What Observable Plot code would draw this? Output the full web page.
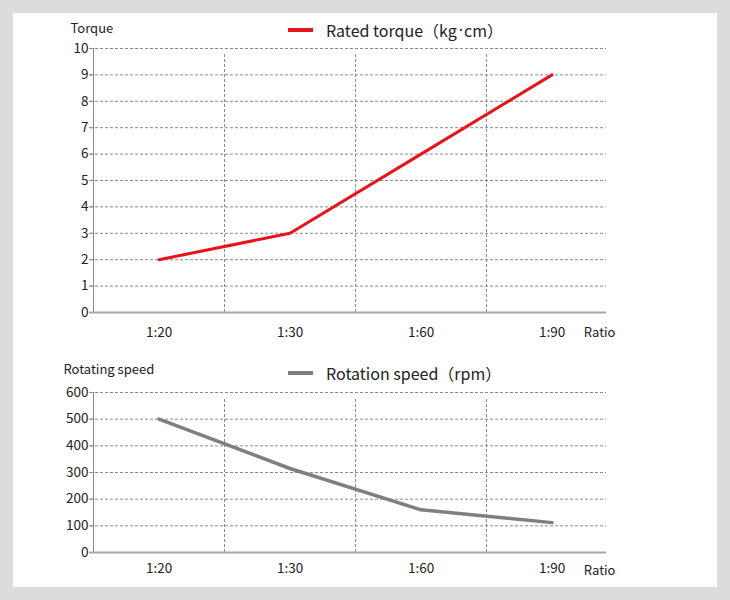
<!DOCTYPE html>
<html>
<head>
<meta charset="utf-8">
<script src="https://cdn.jsdelivr.net/npm/d3@7"></script>
<script src="https://cdn.jsdelivr.net/npm/@observablehq/plot@0.6"></script>
<style>
  html, body { margin: 0; padding: 0; background: #dcdcdc; }
  body { width: 730px; height: 600px; position: relative; overflow: hidden;
         font-family: "Noto Sans CJK SC", "Noto Sans", sans-serif; }
  #panel { position: absolute; left: 13px; top: 13px; width: 704px; height: 574px; background: #fff; }
  .chart { position: absolute; left: 0; }
  .legend { position: absolute; left: 288px; display: flex; align-items: center;
            font-size: 16px; color: #222; white-space: nowrap; }
  .legend .swatch { width: 25px; height: 4px; margin-right: 13px; }
  .legend .dot { font-family: "Noto Sans", sans-serif; margin: 0 1px 0 2px; }
</style>
</head>
<body>
<div id="panel"></div>
<div id="top" class="chart" style="top:0"></div>
<div id="bottom" class="chart" style="top:340px"></div>
<div class="legend" style="top:18px"><span class="swatch" style="background:#e8141c"></span>Rated torque（kg<span class="dot">·</span>cm）</div>
<div class="legend" style="top:361px"><span class="swatch" style="background:#7f7f7f"></span>Rotation speed（rpm）</div>
<script>
// Reduction ratios shared by both charts
const ratios = ["1:20", "1:30", "1:60", "1:90"];
// Rated torque (kg·cm) per ratio
const torque = [2, 3, 6, 9];
// Rotation speed (rpm) per ratio
const speed = [500, 315, 160, 112];
// Y tick values
const torqueTicks = [0, 1, 2, 3, 4, 5, 6, 7, 8, 9, 10];
const speedTicks = [0, 100, 200, 300, 400, 500, 600];

const idx = ratios.map((_, i) => i);
const bounds = ratios.slice(1).map((_, i) => i + 0.5);
const xDomain = [-0.5, 3.416];
const fontFamily = '"Noto Sans CJK SC", "Noto Sans", sans-serif';

function chart({values, ticks, color, width, yLabel, labelDx, labelDy, xPad, ratioDy, height, marginTop, marginBottom}) {
  const yMax = ticks[ticks.length - 1];
  return Plot.plot({
    width: 730,
    height,
    marginLeft: 93,
    marginRight: 124,
    marginTop,
    marginBottom,
    style: {fontFamily, fontSize: "13px", color: "#222", background: "transparent", overflow: "visible"},
    x: {type: "linear", domain: xDomain, axis: null},
    y: {domain: [0, yMax], axis: null},
    marks: [
      // horizontal dashed grid
      Plot.ruleY(ticks.slice(1), {stroke: "#8c8c8c", strokeDasharray: "3,2", strokeWidth: 1, insetLeft: -3}),
      // vertical dashed separators between ratio bands
      Plot.ruleX(bounds, {y1: 0, y2: yMax, stroke: "#8c8c8c", strokeDasharray: "3,2", strokeWidth: 1, insetBottom: -5}),
      // y axis line
      Plot.ruleX([xDomain[0]], {stroke: "#8c8c8c", strokeWidth: 1}),
      Plot.axisY({ticks, tickSize: 4, tickPadding: 1, stroke: "#8c8c8c", fill: "#222", fontSize: 13.5}),
      // x axis line
      Plot.ruleY([0], {stroke: "#a6a6a6", strokeWidth: 2, insetLeft: -3}),
      Plot.axisX({ticks: idx, tickFormat: i => ratios[i], tickSize: 0, tickPadding: xPad, fill: "#222", fontSize: 13.5}),
      // series line
      Plot.line(idx, {x: i => i, y: i => values[i], stroke: color, strokeWidth: width}),
      // axis titles
      Plot.text([yLabel], {frameAnchor: "top-left", textAnchor: "start", lineAnchor: "middle", dx: labelDx, dy: labelDy, fontSize: 13, fill: "#222"}),
      Plot.text(["Ratio"], {frameAnchor: "bottom-right", textAnchor: "end", lineAnchor: "middle", dx: 9, dy: ratioDy, fontSize: 13, fill: "#222"})
    ]
  });
}

document.getElementById("top").append(chart({
  values: torque, ticks: torqueTicks, color: "#e8141c", width: 3,
  yLabel: "Torque", labelDx: -23, labelDy: -20, xPad: 15, ratioDy: 20,
  height: 340, marginTop: 48, marginBottom: 28
}));
document.getElementById("bottom").append(chart({
  values: speed, ticks: speedTicks, color: "#7f7f7f", width: 3.5,
  yLabel: "Rotating speed", labelDx: -30, labelDy: -23, xPad: 11, ratioDy: 18,
  height: 260, marginTop: 52, marginBottom: 48
}));
</script>
</body>
</html>
